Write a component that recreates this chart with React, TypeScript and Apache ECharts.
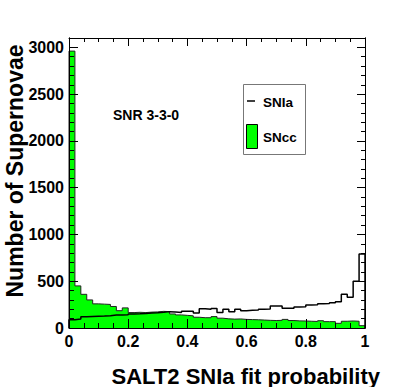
import React, { useEffect, useRef } from 'react';
import * as echarts from 'echarts';

// Histogram: 50 bins of width 0.02 over the SALT2 fit probability [0, 1]
const BIN_WIDTH = 0.02;

const snIaCounts = [
  88, 95, 120, 124, 126, 128, 132, 138, 140, 142,
  150, 152, 155, 160, 163, 168, 175, 172, 165, 180,
  178, 160, 205, 200, 208, 165, 200, 175, 200, 185,
  190, 192, 200, 202, 235, 235, 210, 212, 225, 228,
  245, 248, 260, 262, 270, 280, 360, 330, 500, 790,
];

const snCcCounts = [
  2960, 450, 360, 300, 258, 255, 252, 230, 185, 215,
  165, 168, 165, 170, 172, 178, 175, 150, 140, 135,
  130, 115, 110, 110, 122, 105, 98, 95, 97, 92,
  90, 88, 85, 82, 80, 82, 92, 80, 76, 75,
  72, 70, 78, 68, 68, 50, 72, 75, 72, 25,
];

const xTickValues = [0, 0.2, 0.4, 0.6, 0.8, 1];
const yMajorStep = 500;
const yMinorStep = 100;
const yMax = 3100;

const FONT = '"Liberation Sans", Arial, Helvetica, sans-serif';

function stepData(values: number[]): number[][] {
  const pts: number[][] = [[0, 0]];
  values.forEach((v, i) => pts.push([i * BIN_WIDTH, v]));
  pts.push([values.length * BIN_WIDTH, values[values.length - 1]]);
  pts.push([values.length * BIN_WIDTH, 0]);
  return pts;
}

export default function App() {
  const ref = useRef<HTMLDivElement>(null);

  useEffect(() => {
    document.body.style.margin = '0';
    if (!ref.current) return;
    const chart = echarts.init(ref.current, undefined, { renderer: 'svg' });

    const axisLine = { show: true, onZero: false, lineStyle: { color: '#000', width: 1 } };
    const labelStyle = { fontFamily: FONT, fontWeight: 'bold' as const, fontSize: 16, color: '#000' };

    const xBase = {
      type: 'value' as const,
      min: xTickValues[0],
      max: xTickValues[xTickValues.length - 1],
      interval: xTickValues[1] - xTickValues[0],
      splitLine: { show: false },
      axisLine,
      z: 5,
    };

    const yBase = {
      type: 'value' as const,
      min: 0,
      max: yMax,
      splitLine: { show: false },
      axisLine,
      z: 5,
    };

    chart.setOption({
      animation: false,
      backgroundColor: '#fff',
      grid: { left: 69, right: 42, top: 38, bottom: 59, containLabel: false },
      xAxis: [
        {
          ...xBase,
          position: 'bottom',
          axisTick: { show: true, inside: true, length: 9, lineStyle: { color: '#000' } },
          minorTick: { show: true, splitNumber: 4, length: 5, lineStyle: { color: '#000' } },
          axisLabel: { ...labelStyle, margin: 5, formatter: (v: number) => String(Math.round(v * 10) / 10) },
        },
        {
          ...xBase,
          position: 'top',
          axisTick: { show: true, inside: true, length: 8, lineStyle: { color: '#000' } },
          minorTick: { show: true, splitNumber: 4, length: 4, lineStyle: { color: '#000' } },
          axisLabel: { show: false },
        },
      ],
      yAxis: [
        {
          ...yBase,
          position: 'left',
          interval: yMinorStep,
          axisTick: { show: true, inside: true, length: 5, lineStyle: { color: '#000' } },
          axisLabel: { show: false },
        },
        {
          ...yBase,
          position: 'left',
          interval: yMajorStep,
          axisTick: { show: true, inside: true, length: 9, lineStyle: { color: '#000' } },
          axisLabel: {
            ...labelStyle,
            margin: 5,
            showMaxLabel: false,
            formatter: (v: number) => (v % yMajorStep === 0 ? String(v) : ''),
          },
        },
        {
          ...yBase,
          position: 'right',
          interval: yMinorStep,
          axisTick: { show: true, inside: true, length: 4, lineStyle: { color: '#000' } },
          axisLabel: { show: false },
        },
        {
          ...yBase,
          position: 'right',
          interval: yMajorStep,
          axisTick: { show: true, inside: true, length: 8, lineStyle: { color: '#000' } },
          axisLabel: { show: false },
        },
      ],
      series: [
        {
          name: 'SNcc',
          type: 'line',
          xAxisIndex: 0,
          yAxisIndex: 0,
          data: stepData(snCcCounts),
          step: 'end',
          symbol: 'none',
          lineStyle: { color: '#222', width: 1 },
          areaStyle: { color: '#00ff00', opacity: 1 },
          itemStyle: { color: '#00ff00' },
          z: 2,
        },
        {
          name: 'SNIa',
          type: 'line',
          xAxisIndex: 0,
          yAxisIndex: 0,
          data: stepData(snIaCounts),
          step: 'end',
          symbol: 'none',
          lineStyle: { color: '#000', width: 1.5 },
          itemStyle: { color: '#000' },
          z: 3,
        },
      ],
      graphic: [
        {
          type: 'text',
          x: 113,
          y: 115,
          style: { text: 'SNR 3-3-0', font: `bold 14px ${FONT}`, fill: '#000', verticalAlign: 'middle' },
          z: 10,
        },
        {
          type: 'rect',
          shape: { x: 243.5, y: 84.5, width: 62, height: 70 },
          style: { fill: '#fff', stroke: '#777', lineWidth: 1 },
          z: 10,
        },
        {
          type: 'line',
          shape: { x1: 247, y1: 101, x2: 255, y2: 101 },
          style: { stroke: '#000', lineWidth: 1.5 },
          z: 11,
        },
        {
          type: 'text',
          x: 263,
          y: 102,
          style: { text: 'SNIa', font: `bold 13.5px ${FONT}`, fill: '#000', verticalAlign: 'middle' },
          z: 11,
        },
        {
          type: 'rect',
          shape: { x: 246.5, y: 124.5, width: 11, height: 24 },
          style: { fill: '#00ff00', stroke: '#000', lineWidth: 1 },
          z: 11,
        },
        {
          type: 'text',
          x: 263,
          y: 137,
          style: { text: 'SNcc', font: `bold 13.5px ${FONT}`, fill: '#000', verticalAlign: 'middle' },
          z: 11,
        },
        {
          type: 'text',
          x: 380,
          y: 376,
          style: {
            text: 'SALT2 SNIa fit probability',
            font: `bold 22px ${FONT}`,
            fill: '#000',
            align: 'right',
            verticalAlign: 'middle',
          },
          z: 10,
        },
        {
          type: 'text',
          x: 15,
          y: 171,
          rotation: Math.PI / 2,
          style: {
            text: 'Number of Supernovae',
            font: `bold 23px ${FONT}`,
            fill: '#000',
            align: 'center',
            verticalAlign: 'middle',
          },
          z: 10,
        },
      ],
    });

    return () => {
      chart.dispose();
    };
  }, []);

  return <div ref={ref} style={{ width: 407, height: 387 }} />;
}
